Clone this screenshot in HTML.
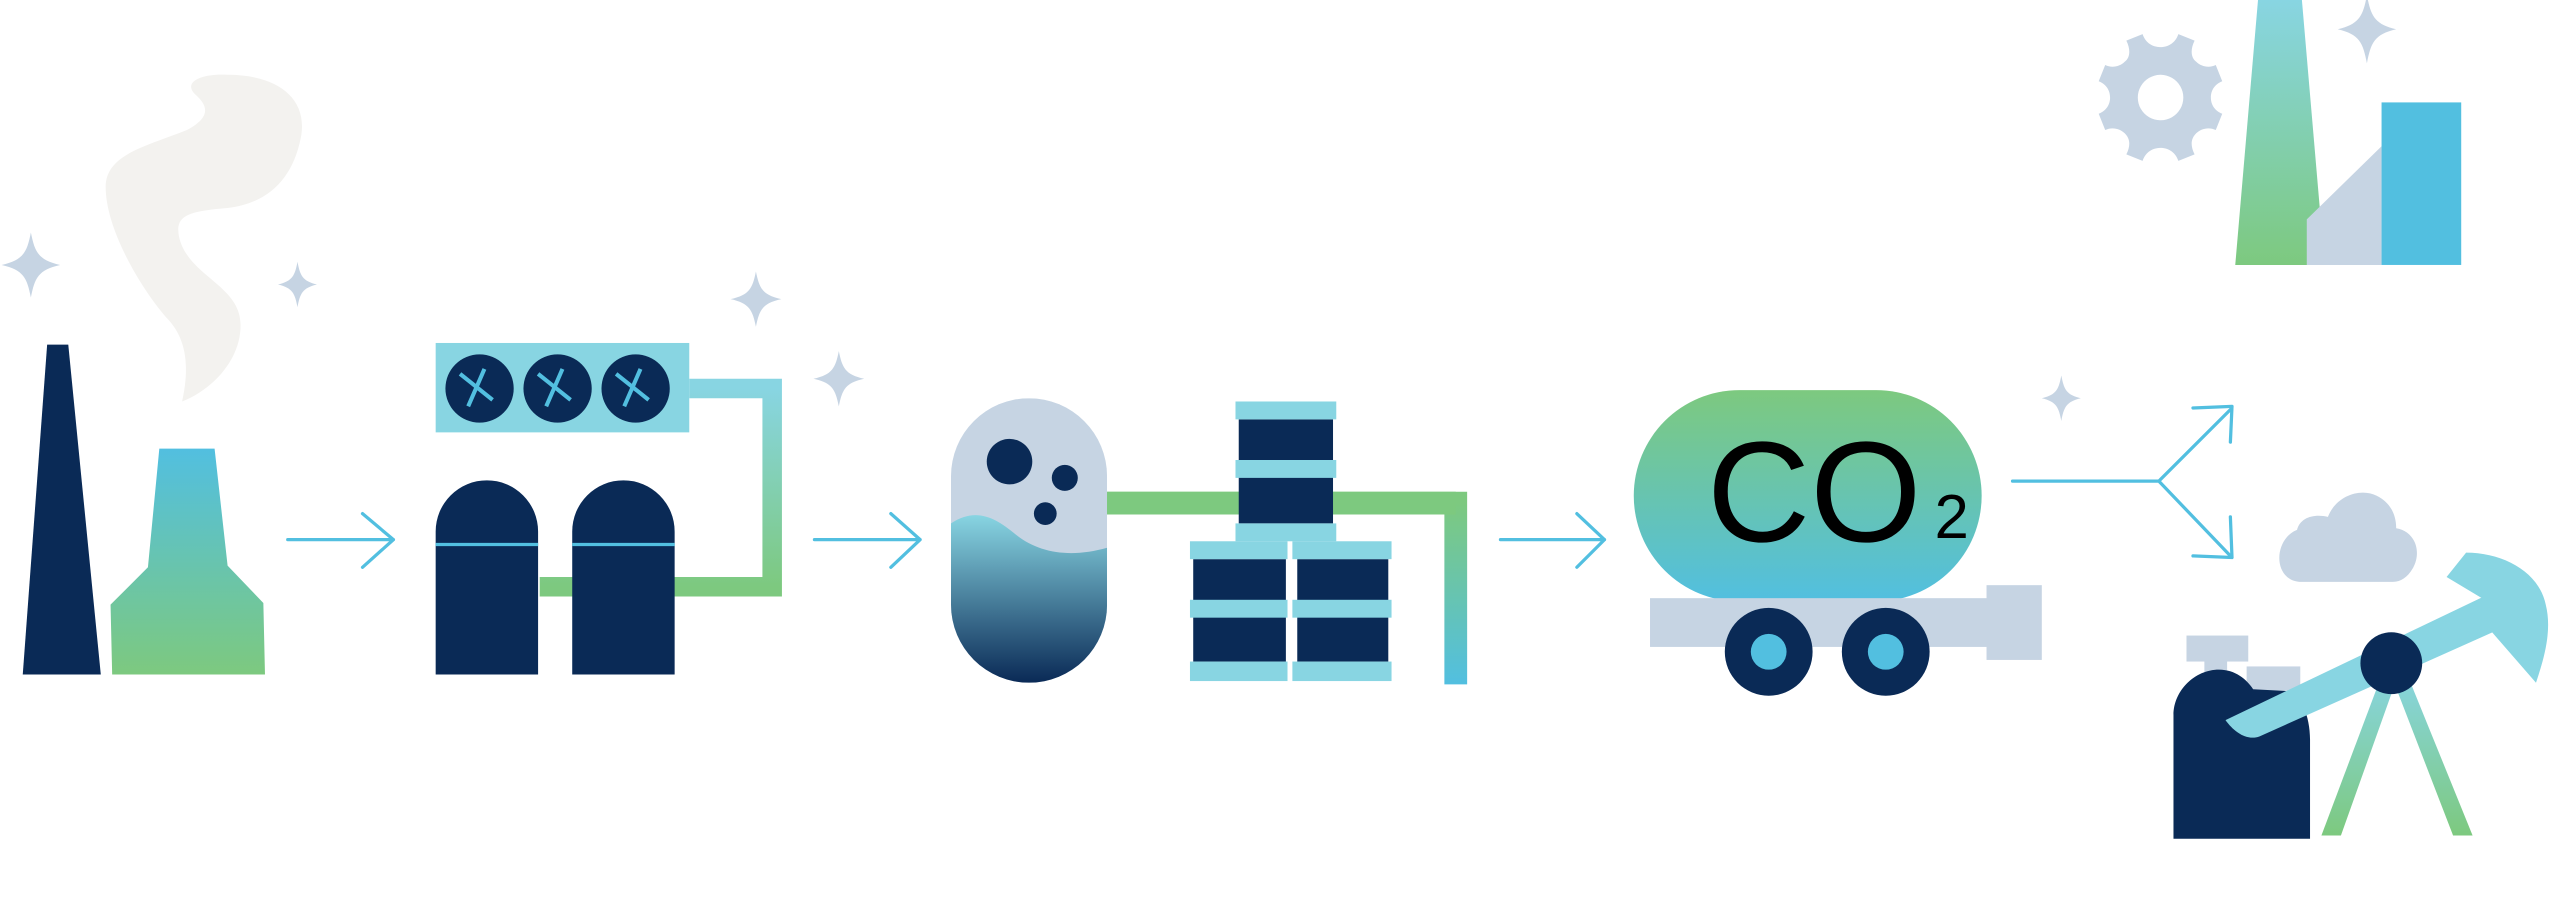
<!DOCTYPE html>
<html><head><meta charset="utf-8"><style>
html,body{margin:0;padding:0;background:#fff;width:2549px;height:907px;overflow:hidden}
svg{display:block}
</style></head><body>
<svg width="2549" height="907" viewBox="0 0 1568 558" preserveAspectRatio="none" xmlns="http://www.w3.org/2000/svg">
<defs>
<linearGradient id="bg" x1="0" y1="0" x2="0" y2="1"><stop offset="0" stop-color="#52bfe0"/><stop offset="1" stop-color="#7dc97f"/></linearGradient>
<linearGradient id="gb" x1="0" y1="0" x2="0" y2="1"><stop offset="0" stop-color="#7dc97f"/><stop offset="1" stop-color="#52bfe0"/></linearGradient>
<linearGradient id="pipe1" x1="0" y1="0" x2="0" y2="1"><stop offset="0" stop-color="#88d5e2"/><stop offset="1" stop-color="#7dc97f"/></linearGradient>
<linearGradient id="liq" x1="0" y1="0" x2="0" y2="1"><stop offset="0" stop-color="#88d5e2"/><stop offset="1" stop-color="#0a2a56"/></linearGradient>
<linearGradient id="stk" x1="0" y1="0" x2="0" y2="1"><stop offset="0" stop-color="#88d5e2"/><stop offset="1" stop-color="#7dc97f"/></linearGradient>
<clipPath id="pill"><rect x="585" y="245" width="96" height="175" rx="48"/></clipPath>
<g id="star"><path d="M0,-10 C0.8,-4 1.5,-1.5 6,0 C1.5,1.5 0.8,4 0,10 C-0.8,4 -1.5,1.5 -6,0 C-1.5,-1.5 -0.8,-4 0,-10Z" fill="#c6d4e3"/></g>
</defs>

<path d="M112,247 C118,220 112,205 102,195 C85,175 65,140 65,115 C65,95 90,90 115,80 C130,72 128,65 120,58 C112,50 125,45 140,46 C170,46 190,60 185,85 C180,110 165,125 140,128 C115,130 108,133 110,145 C115,170 148,175 148,200 C148,222 130,240 112,247Z" fill="#f3f2ef"/>
<use href="#star" transform="translate(19,163) scale(3,2)"/>
<use href="#star" transform="translate(183,175) scale(2,1.4)"/>
<use href="#star" transform="translate(465,184) scale(2.6,1.7)"/>
<use href="#star" transform="translate(516,233) scale(2.6,1.7)"/>
<use href="#star" transform="translate(1268,245) scale(2,1.4)"/>
<use href="#star" transform="translate(1456,18) scale(3,2.1)"/>

<polygon points="14,415 29,212 42,212 62,415" fill="#0a2a56"/>
<polygon points="98,276 132,276 140,348 162,371 163,415 69,415 68,372 91,349" fill="url(#bg)"/>

<g stroke="#52bfe0" stroke-width="2" fill="none" stroke-linecap="round" stroke-linejoin="round">
<path d="M177,332 H242 M223,316 L242,332 L223,349"/>
<path d="M501,332 H566 M548,316 L566,332 L548,349"/>
<path d="M923,332 H987 M970,316 L987,332 L970,349"/>
<path d="M1238,296 H1328 L1372,252 M1328,296 L1372,342 M1349,251 L1373,250 L1372,272 M1349,342 L1373,343 L1372,318"/>
</g>

<path d="M424,239 H475 V361 H332" stroke="url(#pipe1)" stroke-width="12" fill="none"/>
<rect x="268" y="211" width="156" height="55" fill="#88d5e2"/>
<g fill="#0a2a56"><circle cx="295" cy="239" r="21"/><circle cx="343" cy="239" r="21"/><circle cx="391" cy="239" r="21"/></g>
<g stroke="#52bfe0" stroke-width="2.5">
<path d="M283,230 L303,246 M298,227 L288,250"/>
<path d="M331,230 L351,246 M346,227 L336,250"/>
<path d="M379,230 L399,246 M394,227 L384,250"/>
</g>
<g fill="#0a2a56">
<path d="M268,415 V327 A31.5,31.5 0 0 1 331,327 V415Z"/>
<path d="M352,415 V327 A31.5,31.5 0 0 1 415,327 V415Z"/>
</g>
<path d="M268,335 H331 M352,335 H415" stroke="#52bfe0" stroke-width="2"/>

<path d="M681,309.5 H895.5 V421" stroke="url(#gb)" stroke-width="14" fill="none"/>
<path d="M681,309.5 H895.5" stroke="#7dc97f" stroke-width="14"/>

<g clip-path="url(#pill)">
<rect x="585" y="245" width="96" height="175" fill="#c6d4e3"/>
<path d="M585,322 C600,312 612,318 625,329 C640,341 660,343 681,337 V420 H585Z" fill="url(#liq)"/>
</g>
<g fill="#0a2a56"><circle cx="621" cy="284" r="14"/><circle cx="655" cy="294" r="8"/><circle cx="643" cy="316" r="7"/></g>

<g fill="#0a2a56">
<rect x="762" y="258" width="58" height="64"/>
<rect x="734" y="344" width="57" height="63"/>
<rect x="798" y="344" width="56" height="63"/>
</g>
<g fill="#88d5e2">
<rect x="760" y="247" width="62" height="11"/>
<rect x="760" y="283" width="62" height="11"/>
<rect x="760" y="322" width="62" height="11"/>
<rect x="732" y="333" width="60" height="11"/><rect x="795" y="333" width="61" height="11"/>
<rect x="732" y="369" width="60" height="11"/><rect x="795" y="369" width="61" height="11"/>
<rect x="732" y="407" width="60" height="12"/><rect x="795" y="407" width="61" height="12"/>
</g>

<rect x="1005" y="240" width="214" height="130" rx="65" fill="url(#gb)"/>
<text x="1050" y="333" font-family="Liberation Sans, sans-serif" font-size="88" fill="#000">CO</text>
<text x="1190" y="331" font-family="Liberation Sans, sans-serif" font-size="38" fill="#000">2</text>
<rect x="1015" y="368" width="208" height="30" fill="#c6d4e3"/>
<rect x="1222" y="360" width="34" height="46" fill="#c6d4e3"/>
<g fill="#0a2a56"><circle cx="1088" cy="401" r="27"/><circle cx="1160" cy="401" r="27"/></g>
<g fill="#52bfe0"><circle cx="1088" cy="401" r="11"/><circle cx="1160" cy="401" r="11"/></g>

<path fill="#c6d4e3" fill-rule="evenodd" d="M1308,25 L1318,21 C1320,27 1325,29 1329,29 C1333,29 1338,27 1340,21 L1350,25 C1347,31 1348,36 1351,38 C1354,41 1359,42 1363,40 L1367,50 C1362,52 1360,56 1360,60 C1360,64 1362,68 1367,70 L1363,80 C1359,78 1354,79 1351,82 C1348,85 1347,89 1350,95 L1340,99 C1338,93 1333,91 1329,91 C1325,91 1320,93 1318,99 L1308,95 C1311,89 1310,85 1307,82 C1304,79 1299,78 1295,80 L1291,70 C1296,68 1298,64 1298,60 C1298,56 1296,52 1291,50 L1295,40 C1299,42 1304,41 1307,38 C1310,36 1311,31 1308,25Z M1329,46 A14,14 0 1 0 1329.1,46Z"/>
<polygon points="1375,163 1389,0 1416,0 1430,163" fill="url(#stk)"/>
<polygon points="1419,135 1465,90 1465,163 1419,163" fill="#c6d4e3"/>
<rect x="1465" y="63" width="49" height="100" fill="#52bfe0"/>

<path d="M1416,358 C1398,358 1398,332 1413,326 C1415,318 1424,316 1432,318 C1437,305 1452,300 1462,305 C1470,309 1474,316 1474,325 C1486,327 1490,340 1484,350 C1481,355 1477,358 1472,358Z" fill="#c6d4e3"/>

<rect x="1345" y="391" width="38" height="16" fill="#c6d4e3"/>
<rect x="1356" y="405" width="14" height="10" fill="#c6d4e3"/>
<rect x="1382" y="410" width="33" height="15" fill="#c6d4e3"/>
<path d="M1337,516 V440 C1337,425 1350,412 1365,412 C1375,412 1382,418 1386,424 L1405,425 C1415,425 1421,440 1421,455 V516Z" fill="#0a2a56"/>
<path d="M1428,514 L1466,413 L1476,413 L1440,514Z" fill="url(#stk)"/>
<path d="M1509,514 L1470,413 L1480,413 L1521,514Z" fill="url(#stk)"/>
<path d="M1369,443 L1530,366 L1540,386 L1390,453 C1382,456 1374,450 1369,443Z" fill="#88d5e2"/>
<path d="M1517,340 C1540,340 1562,352 1566,372 C1570,388 1565,405 1560,420 L1533,389 L1530,370 L1505,355Z" fill="#88d5e2"/>
<circle cx="1471" cy="408" r="19" fill="#0a2a56"/>
</svg>
</body></html>
